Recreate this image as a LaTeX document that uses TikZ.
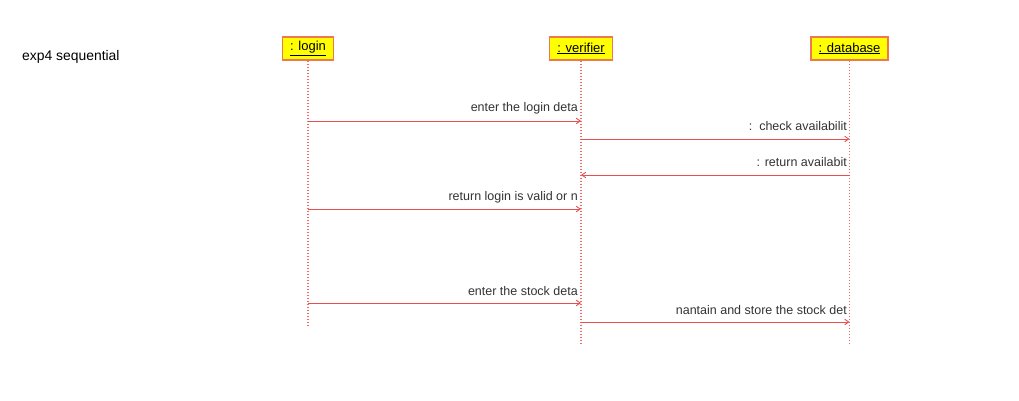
\documentclass[tikz,border=0pt]{standalone}
\usepackage{fontspec}
\setmainfont{Liberation Sans}
\usetikzlibrary{arrows.meta}
\definecolor{linered}{HTML}{E85050}
\definecolor{dotred}{HTML}{F06868}
\definecolor{boxedge}{HTML}{F07850}
\definecolor{boxfill}{HTML}{FFFF00}
\begin{document}
\begin{tikzpicture}[x=1pt,y=-1pt,
  objbox/.style={draw=boxedge,fill=boxfill,line width=1.2pt,minimum height=23pt,inner xsep=7.5pt,font=\fontsize{13}{15}\selectfont},
  lifeline/.style={draw=dotred,line width=1.2pt,dash pattern=on 1.5pt off 1.5pt},
  msg/.style={draw=linered,line width=0.9pt,-{Straight Barb[length=4pt,width=5.5pt]}},
  msglabel/.style={anchor=base east,inner sep=0pt,font=\fontsize{12.5}{14}\selectfont,text=black!80},
  title/.style={anchor=base west,inner sep=0pt,font=\fontsize{13.9}{15}\selectfont}
]
\useasboundingbox (0,0) rectangle (1019,401);
\node[title] (ttl) at (22,61) {exp4 sequential};
\node[objbox] (login) at (308,48.5) {\underline{: login}};
\node[objbox] (verifier) at (581,48.5) {\underline{: verifier}};
\node[objbox] (database) at (849.5,48.5) {\underline{: database}};
\coordinate (loginend) at (308,325);
\coordinate (verend) at (581,345);
\coordinate (dbend) at (849.5,345);
\draw[lifeline] (login.south) -- (loginend);
\draw[lifeline] (verifier.south) -- (verend);
\draw[lifeline] (database.south) -- (dbend);
% messages
\coordinate (m1a) at (308,121); \coordinate (m1b) at (581,121);
\coordinate (m2a) at (581,139); \coordinate (m2b) at (849.5,139);
\coordinate (m3a) at (849.5,175); \coordinate (m3b) at (581,175);
\coordinate (m4a) at (308,209); \coordinate (m4b) at (581,209);
\coordinate (m5a) at (308,303); \coordinate (m5b) at (581,303);
\coordinate (m6a) at (581,322); \coordinate (m6b) at (849.5,322);
\draw[msg] (m1a) -- (m1b);
\draw[msg] (m2a) -- (m2b);
\draw[msg] (m3a) -- (m3b);
\draw[msg] (m4a) -- (m4b);
\draw[msg] (m5a) -- (m5b);
\draw[msg] (m6a) -- (m6b);
\node[msglabel] (l1) at (578,112) {enter the login deta};
\node[msglabel] (l2) at (847,131) {:\ \ check availabilit};
\node[msglabel] (l3) at (847,166) {: return availabit};
\node[msglabel] (l4) at (578,200) {return login is valid or n};
\node[msglabel] (l5) at (578,295) {enter the stock deta};
\node[msglabel] (l6) at (847,314) {nantain and store the stock det};
\end{tikzpicture}
\end{document}
